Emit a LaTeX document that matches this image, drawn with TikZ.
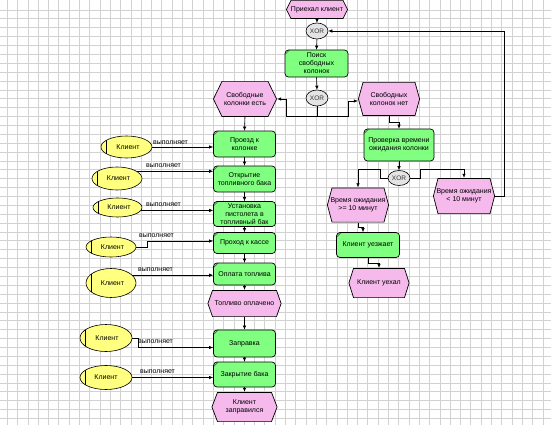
\documentclass[tikz,border=0pt]{standalone}
\usepackage{fontspec}
\setmainfont{Liberation Sans}
\usetikzlibrary{calc,arrows.meta,shapes.geometric}
\definecolor{fgreen}{RGB}{128,255,128}
\definecolor{epink}{RGB}{245,185,235}
\definecolor{oyellow}{RGB}{255,255,128}
\definecolor{xgray}{RGB}{228,228,228}
\definecolor{gridc}{RGB}{210,210,210}
\begin{document}
\begin{tikzpicture}[x=1pt,y=-1pt,
  font=\fontsize{7}{8}\selectfont,
  gridline/.style={draw=gridc,line width=0.8pt},
  func/.style 2 args={rectangle,rounded corners=3.5pt,draw=black,line width=0.7pt,
    fill=fgreen,align=center,inner sep=1pt,minimum width=#1,minimum height=#2,
    path picture={\draw[black!65,line width=0.7pt]
      ([yshift=-4.5pt]path picture bounding box.north west) --
      ([xshift=4.5pt]path picture bounding box.north west);}},
  evt/.style n args={3}{rectangle,align=center,inner sep=1pt,
    minimum width=#1,minimum height=#2,
    path picture={\filldraw[fill=epink,draw=black,line width=0.7pt]
      ([xshift=0.4pt]path picture bounding box.west) --
      ([xshift=#3,yshift=-0.4pt]path picture bounding box.north west) --
      ([xshift=-#3,yshift=-0.4pt]path picture bounding box.north east) --
      ([xshift=-0.4pt]path picture bounding box.east) --
      ([xshift=-#3,yshift=0.4pt]path picture bounding box.south east) --
      ([xshift=#3,yshift=0.4pt]path picture bounding box.south west) -- cycle;}},
  xor/.style={ellipse,draw=black,line width=0.6pt,fill=xgray,minimum width=22,
    minimum height=16,inner sep=0pt,text=black!80,font=\fontsize{6.5}{7}\selectfont},
  org/.style 2 args={ellipse,draw=black,line width=0.6pt,fill=oyellow,
    minimum width=#1,minimum height=#2,inner sep=0pt,
    path picture={\draw[line width=0.7pt]
      ([xshift=5.5pt]path picture bounding box.north west) --
      ([xshift=5.5pt]path picture bounding box.south west);}},
  conn/.style={draw=black,line width=0.6pt,-{Latex[length=4pt,width=3.5pt]}},
  lbl/.style={font=\fontsize{7}{8}\selectfont,inner sep=0.5pt}
]
\useasboundingbox (0,0) rectangle (551,425);
\fill[white] (0,0) rectangle (551,425);
\foreach \i in {0,...,53} \draw[gridline] ({7.3+10.3*\i},0) -- ({7.3+10.3*\i},425);
\foreach \j in {0,...,46} \draw[gridline] (0,{10+8.88*\j}) -- (551,{10+8.88*\j});

% right / top part
\node[evt={62}{19}{5}] (e0) at (317,9.5) {Приехал клиент};
\node[xor] (x1) at (317,31) {XOR};
\node[func={63}{27}] (f1) at (316.5,63.5) {Поиск\\свободных\\колонок};
\node[xor] (x2) at (317,98) {XOR};
\node[evt={64}{36}{9}] (e1) at (245,99) {Свободные\\колонки есть};
\node[evt={62}{34}{5}] (e2) at (389,99) {Свободных\\колонок нет};
\node[func={70}{32}] (f2) at (399,145) {Проверка времени\\ожидания колонки};
\node[xor,minimum height=15] (x3) at (399,178) {XOR};
\node[evt={62}{35}{5}] (e3) at (358,205) {Время ожидания\\>= 10 минут};
\node[evt={62}{36}{5}] (e4) at (464,196) {Время ожидания\\< 10 минут};
\node[func={63}{25}] (f3) at (368,245) {Клиент уезжает};
\node[evt={61}{30}{5}] (e5) at (379,283) {Клиент уехал};

% left column
\node[func={62}{26}] (g1) at (244.5,144) {Проезд к\\колонке};
\node[func={62}{26}] (g2) at (244.5,179) {Открытие\\топливного бака};
\node[func={62}{25}] (g3) at (244.5,214) {Установка\\пистолета в\\топливный бак};
\node[func={62}{21}] (g4) at (244.5,243) {Проход к кассе};
\node[func={62}{22}] (g5) at (244.5,274) {Оплата топлива};
\node[evt={74}{27}{5}] (e6) at (244.5,303.5) {Топливо оплачено};
\node[func={62}{27}] (g6) at (244.5,343.5) {Заправка};
\node[func={62}{25}] (g7) at (244.5,374.5) {Закрытие бака};
\node[evt={66}{30}{6}] (e7) at (244.5,407) {Клиент\\заправился};

% organisational units
\node[org={51}{22}] (o1) at (126.5,147) {\hspace{3pt}Клиент};
\node[org={50}{23}] (o2) at (117,178.5) {\hspace{3pt}Клиент};
\node[org={49}{19}] (o3) at (117.5,207.5) {\hspace{3pt}Клиент};
\node[org={50}{20}] (o4) at (111,247) {\hspace{3pt}Клиент};
\node[org={50}{29}] (o5) at (111,283) {\hspace{3pt}Клиент};
\node[org={52}{27}] (o6) at (106,338) {\hspace{2pt}Клиент};
\node[org={52}{24}] (o7) at (106,377.5) {Клиент};

% labels
\node[lbl] (l1) at (170.5,143) {выполняет};
\node[lbl] (l2) at (163.5,166) {выполняет};
\node[lbl] (l3) at (163.5,205) {выполняет};
\node[lbl] (l4) at (156.5,236) {выполняет};
\node[lbl] (l5) at (155.5,269.5) {выполняет};
\node[lbl] (l6) at (155.5,342) {выполняет};
\node[lbl] (l7) at (157.5,372) {выполняет};

% connectors: main flow
\draw[conn] (e0.south) -- (x1.north);
\draw[conn] (x1.south) -- (f1.north);
\draw[conn] (f1.south) -- (x2.north);
\draw[conn] (x2.south) -- ++(0,10) coordinate (j2) -| ([xshift=9pt]e1.east) -- (e1.east);
\draw[conn] (j2) -| ([xshift=-10pt,yshift=-2pt]e2.west) -- ([yshift=-2pt]e2.west);
\draw[conn] (e2.south) -- ++(0,6) -| (f2.north);
\draw[conn] (f2.south) -- (x3.north);
\draw[conn] (x3.west) -- ++(-7,0) -- ++(0,-9) -| (e3.north);
\draw[conn] (x3.east) -- ++(10,0) -- ++(0,-9) -| (e4.north);
\draw[conn] (e4.east) -- ++(9,0) |- (x1.east);
\draw[conn] (e3.south) -- ++(0,5) -| ([xshift=-5pt]f3.north);
\draw[conn] (f3.south) -- ++(0,5) -| (e5.north);

\draw[conn] (e1.south) -- (g1.north);
\draw[conn] (g1.south) -- (g2.north);
\draw[conn] (g2.south) -- (g3.north);
\draw[conn] (g3.south) -- (g4.north);
\draw[conn] (g4.south) -- (g5.north);
\draw[conn] (g5.south) -- (e6.north);
\draw[conn] (e6.south) -- (g6.north);
\draw[conn] (g6.south) -- (g7.north);
\draw[conn] (g7.south) -- (e7.north);

% connectors: organisational units
\draw[conn] (o1.east) -- (o1.east -| g1.west);
\draw[conn] (o2.20) -- (o2.20 -| g2.west);
\draw[conn] (o3.-7) -- (o3.-7 -| g3.west);
\draw[conn] (o4.east) -- ++(11,0) |- ([yshift=2pt]g4.west);
\draw[conn] (o5.20) -- (o5.20 -| g5.west);
\draw[conn] (o6.east) -- ++(6,0) |- ([yshift=-4pt]g6.west);
\draw[conn] (o7.east) -- (o7.east -| g7.west);
\end{tikzpicture}
\end{document}
